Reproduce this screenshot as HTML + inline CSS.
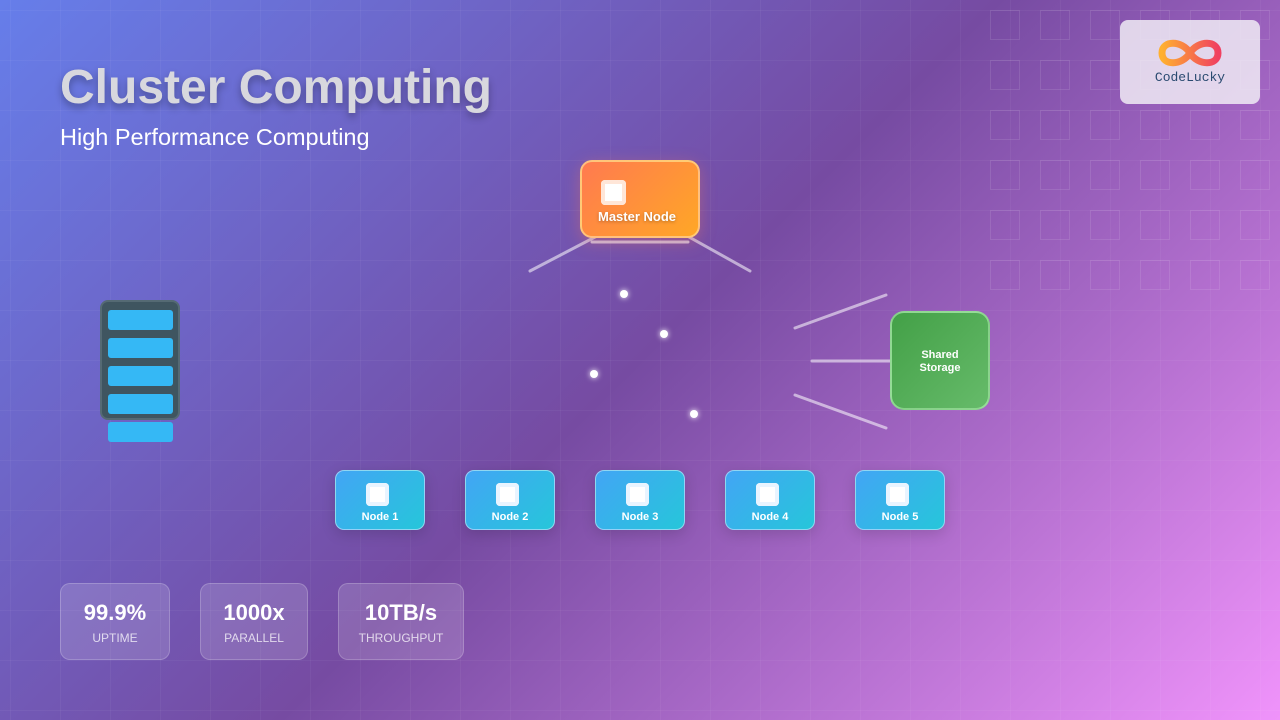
<!DOCTYPE html>
<html><head><meta charset="utf-8"><style>
*{margin:0;padding:0;box-sizing:border-box}
body{width:1280px;height:720px;overflow:hidden;position:relative;font-family:"Liberation Sans",Arial,sans-serif;
background:linear-gradient(135deg,#667eea 0%,#764ba2 50%,#f093fb 100%);}
.grid{position:absolute;inset:0;background-image:linear-gradient(rgba(255,255,255,.04) 1px,transparent 1px),linear-gradient(90deg,rgba(255,255,255,.04) 1px,transparent 1px);background-size:50px 50px;background-position:10px 10px}
.abs{position:absolute}
h1{position:absolute;left:60px;top:60px;font-size:48px;font-weight:bold;color:#d8d8de;text-shadow:0 4px 8px rgba(0,0,0,.3)}
.sub{position:absolute;left:60px;top:124px;font-size:23.5px;color:#fff}
.sq{position:absolute;width:30px;height:30px;border:1px solid rgba(255,255,255,.1)}
.logo{position:absolute;left:1120px;top:20px;width:140px;height:84px;background:rgba(240,235,245,.85);border-radius:8px}
.node{position:absolute;top:470px;width:90px;height:60px;border-radius:9px;background:linear-gradient(135deg,#42a5f5,#26c6da);border:1.5px solid rgba(255,255,255,.45);box-shadow:0 4px 14px rgba(0,0,0,.15)}
.node .ic{position:absolute;left:30px;top:12px;width:23px;height:23px;background:#fff;border-radius:4px;box-shadow:inset 0 0 0 4px #e8f4ff}
.node span{position:absolute;left:0;right:0;top:40px;text-align:center;color:#fff;font-size:11px;font-weight:bold}
.stat{position:absolute;top:583px;height:77px;border-radius:10px;background:rgba(255,255,255,.15);border:1px solid rgba(255,255,255,.2);text-align:center;color:#fff}
.stat b{display:block;margin-top:16px;font-size:22px}
.stat i{display:block;font-style:normal;font-size:12px;color:rgba(255,255,255,.75);margin-top:5px}
.dot{position:absolute;width:8px;height:8px;border-radius:50%;background:#fff;box-shadow:0 0 6px #fff}
</style></head><body>
<div class="grid"></div>
<div id="sqs"></div>
<h1>Cluster Computing</h1>
<div class="sub">High Performance Computing</div>
<div class="logo">
<svg class="abs" style="left:38px;top:16px" width="64" height="34" viewBox="0 0 64 34"><defs><linearGradient id="g" x1="0" x2="1"><stop offset="0" stop-color="#ffb030"/><stop offset="1" stop-color="#f04060"/></linearGradient></defs><path d="M32 17 C24 4 4 4 4 17 C4 30 24 30 32 17 C40 4 60 4 60 17 C60 30 40 30 32 17Z" fill="none" stroke="url(#g)" stroke-width="7"/></svg>
<div class="abs" style="left:0;right:0;top:50px;text-align:center;font-family:'Liberation Mono',monospace;font-size:13px;color:#2a4a70">CodeLucky</div>
</div>
<svg class="abs" style="left:0;top:0" width="1280" height="720">
<g stroke="rgba(255,255,255,.55)" stroke-width="3" stroke-linecap="round">
<line x1="530" y1="271" x2="620" y2="224"/><line x1="655" y1="218" x2="750" y2="271"/>
<line x1="795" y1="328" x2="886" y2="295"/><line x1="812" y1="361" x2="890" y2="361"/><line x1="795" y1="395" x2="886" y2="428"/>
<line x1="592" y1="242" x2="688" y2="242" stroke="rgba(255,255,255,.6)"/>
</g></svg>
<div class="abs" style="left:580px;top:160px;width:120px;height:78px;border-radius:12px;background:linear-gradient(135deg,#ff7a50,#ffa726);border:2px solid rgba(255,220,150,.7);box-shadow:0 4px 16px rgba(255,120,80,.35)">
<div class="abs" style="left:19px;top:18px;width:25px;height:25px;background:#fff;border-radius:4px;box-shadow:inset 0 0 0 4px #ffe6d8"></div>
<div class="abs" style="left:16px;top:47px;color:#fff;font-size:13px;font-weight:bold;text-shadow:0 1px 3px rgba(0,0,0,.3)">Master Node</div></div>
<div class="abs" style="left:890px;top:311px;width:100px;height:99px;border-radius:14px;background:linear-gradient(135deg,#43a047,#66bb6a);border:2px solid rgba(200,255,200,.5);color:#fff;font-size:11px;font-weight:bold;text-align:center;padding-top:36px;line-height:13px">Shared<br>Storage</div>
<div class="abs" style="left:100px;top:300px;width:80px;height:120px;border-radius:8px;background:#3f5560;border:2px solid #556a74"></div>
<div class="abs" style="left:108px;top:310px;width:65px;height:20px;border-radius:3px;background:#35b8f5"></div>
<div class="abs" style="left:108px;top:338px;width:65px;height:20px;border-radius:3px;background:#35b8f5"></div>
<div class="abs" style="left:108px;top:366px;width:65px;height:20px;border-radius:3px;background:#35b8f5"></div>
<div class="abs" style="left:108px;top:394px;width:65px;height:20px;border-radius:3px;background:#35b8f5"></div>
<div class="abs" style="left:108px;top:422px;width:65px;height:20px;border-radius:3px;background:#35b8f5"></div>
<div class="dot" style="left:620px;top:290px"></div><div class="dot" style="left:660px;top:330px"></div>
<div class="dot" style="left:590px;top:370px"></div><div class="dot" style="left:690px;top:410px"></div>
<div class="node" style="left:335px"><div class="ic"></div><span>Node 1</span></div>
<div class="node" style="left:465px"><div class="ic"></div><span>Node 2</span></div>
<div class="node" style="left:595px"><div class="ic"></div><span>Node 3</span></div>
<div class="node" style="left:725px"><div class="ic"></div><span>Node 4</span></div>
<div class="node" style="left:855px"><div class="ic"></div><span>Node 5</span></div>
<div class="stat" style="left:60px;width:110px"><b>99.9%</b><i>UPTIME</i></div>
<div class="stat" style="left:200px;width:108px"><b>1000x</b><i>PARALLEL</i></div>
<div class="stat" style="left:338px;width:126px"><b>10TB/s</b><i>THROUGHPUT</i></div>
<script>
var h='';for(var r=0;r<6;r++)for(var c=0;c<6;c++)h+='<div class="sq" style="left:'+(990+c*50)+'px;top:'+(10+r*50)+'px"></div>';
document.getElementById('sqs').innerHTML=h;
</script>
</body></html>
